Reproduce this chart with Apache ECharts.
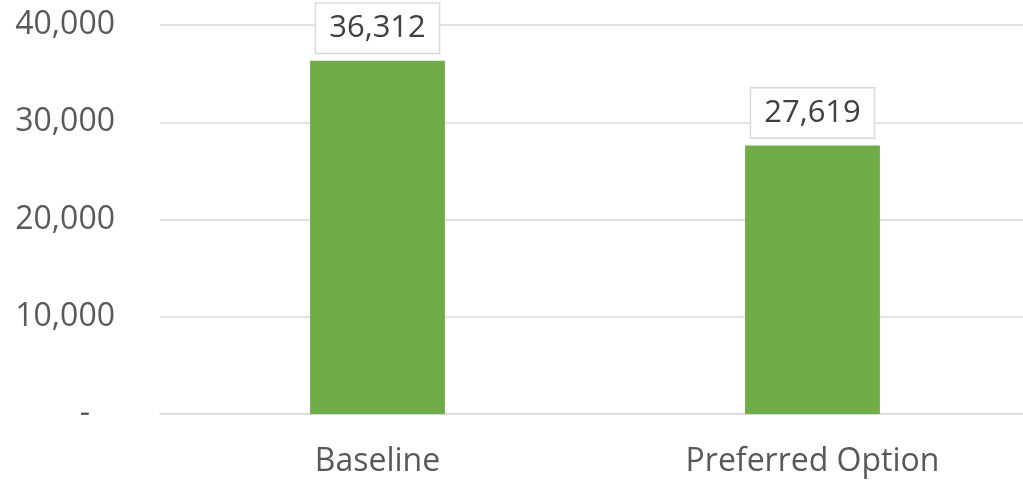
<!DOCTYPE html>
<html>
<head>
<meta charset="utf-8">
<script src="https://cdn.jsdelivr.net/npm/echarts@6/dist/echarts.min.js"></script>
<style>html,body{margin:0;padding:0;background:#fff;}#c{width:1023px;height:482px;}</style>
</head>
<body>
<div id="c"></div>
<script>
const categories = ['Baseline', 'Preferred Option'];
const values = [36312, 27619];
const yTicks = [0, 10000, 20000, 30000, 40000];

const fmt = v => v === 0 ? '-   ' : v.toLocaleString('en-US');
const chart = echarts.init(document.getElementById('c'));
chart.setOption({
  animation: false,
  textStyle: { fontFamily: 'Open Sans' },
  grid: { left: 160, width: 870, top: 25, bottom: 68, containLabel: false, outerBoundsMode: 'none' },
  xAxis: {
    type: 'category',
    data: categories,
    axisLine: { lineStyle: { color: '#d9d9d9', width: 1.5 } },
    axisTick: { show: false },
    axisLabel: { color: '#595959', fontSize: 32, margin: 32, fontFamily: 'Open Sans' }
  },
  yAxis: {
    type: 'value',
    min: yTicks[0],
    max: yTicks[yTicks.length - 1],
    interval: yTicks[1] - yTicks[0],
    axisLine: { show: false },
    axisTick: { show: false },
    splitLine: { lineStyle: { color: '#d9d9d9', width: 1.5 } },
    axisLabel: { color: '#595959', fontSize: 32, margin: 45, formatter: fmt, fontFamily: 'Open Sans' }
  },
  series: [{
    type: 'bar',
    data: values,
    barWidth: '31%',
    itemStyle: { color: '#70ad47' },
    label: {
      show: true,
      position: 'top',
      distance: 8,
      formatter: p => p.value.toLocaleString('en-US'),
      fontSize: 31,
      color: '#404040',
      fontFamily: 'Open Sans',
      backgroundColor: '#fff',
      borderColor: '#d9d9d9',
      borderWidth: 1.5,
      padding: [9, 13, 9, 13]
    }
  }]
});
</script>
</body>
</html>
